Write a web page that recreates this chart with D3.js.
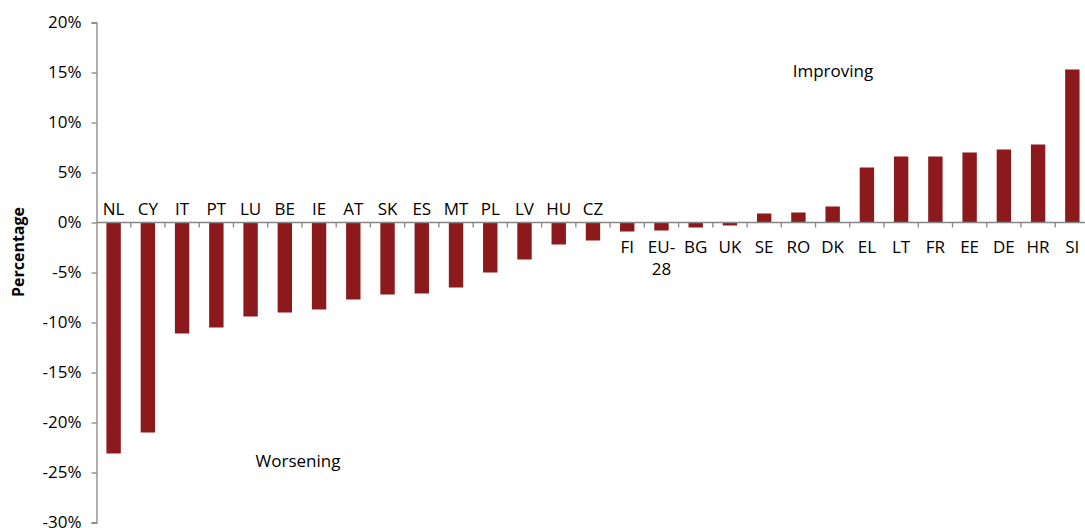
<!DOCTYPE html>
<html>
<head>
<meta charset="utf-8">
<script src="https://cdn.jsdelivr.net/npm/d3@7"></script>
<style>
  body { margin: 0; background: #fff; }
  svg text { font-family: "Open Sans", sans-serif; fill: #000; }
</style>
</head>
<body>
<div id="chart"></div>
<script>
// countries, sorted from worsening to improving
const countries = ["NL", "CY", "IT", "PT", "LU", "BE", "IE", "AT", "SK", "ES", "MT", "PL", "LV", "HU", "CZ",
  "FI", "EU-28", "BG", "UK", "SE", "RO", "DK", "EL", "LT", "FR", "EE", "DE", "HR", "SI"];
// change in percent
const values = [-23.1, -21.0, -11.1, -10.5, -9.4, -9.0, -8.7, -7.7, -7.2, -7.1, -6.5, -5.0, -3.7, -2.2, -1.8,
  -0.9, -0.8, -0.5, -0.3, 0.9, 1.0, 1.6, 5.5, 6.6, 6.6, 7.0, 7.3, 7.8, 15.3];
const yTicks = [20, 15, 10, 5, 0, -5, -10, -15, -20, -25, -30];

const width = 1085;
const height = 528;
const axisColor = "#868686";
const barColor = "#8c191c";

const svg = d3.select("#chart")
  .append("svg")
  .attr("width", width)
  .attr("height", height);

// scales
const pad = 0.58;
const x = d3.scaleBand()
  .domain(countries)
  .range([96.5, 96.5 + 29 * 34.24])
  .paddingInner(pad)
  .paddingOuter(pad / 2);

const y = d3.scaleLinear()
  .domain([-30, 20])
  .range([522.5, 22.5]);

// y axis
const yAxis = svg.append("g")
  .attr("transform", "translate(96.5,0)")
  .call(d3.axisLeft(y).tickValues(yTicks).tickSize(5).tickPadding(10)
    .tickFormat(function(d) { return d + "%"; }));
yAxis.select(".domain").attr("stroke", axisColor).attr("stroke-width", 1.3);
yAxis.selectAll(".tick line").attr("stroke", axisColor).attr("stroke-width", 1.3);
yAxis.selectAll(".tick text")
  .style("font-family", "'Open Sans', sans-serif")
  .style("font-size", "17px")
  .attr("fill", "#000");

// bars
svg.selectAll("rect.bar")
  .data(values)
  .enter()
  .append("rect")
  .attr("class", "bar")
  .attr("x", function(d, i) { return x(countries[i]); })
  .attr("width", x.bandwidth())
  .attr("y", function(d) { return Math.min(y(d), y(0)); })
  .attr("height", function(d) { return Math.abs(y(d) - y(0)); })
  .attr("fill", barColor);

// x axis line and boundary ticks
const step = x.step();
svg.append("line")
  .attr("x1", 96.5).attr("x2", width)
  .attr("y1", y(0)).attr("y2", y(0))
  .attr("stroke", axisColor).attr("stroke-width", 1.3);

svg.selectAll("line.xtick")
  .data(countries)
  .enter()
  .append("line")
  .attr("class", "xtick")
  .attr("x1", function(d) { return x(d) + x.bandwidth() / 2 + step / 2; })
  .attr("x2", function(d) { return x(d) + x.bandwidth() / 2 + step / 2; })
  .attr("y1", y(0)).attr("y2", y(0) + 5)
  .attr("stroke", axisColor).attr("stroke-width", 1.3);

// category labels: above the axis for negative bars, below for positive
const labels = svg.selectAll("text.cat")
  .data(countries)
  .enter()
  .append("text")
  .attr("class", "cat")
  .attr("text-anchor", "middle")
  .style("font-size", "17px")
  .attr("x", function(d) { return x(d) + x.bandwidth() / 2; })
  .attr("y", function(d, i) { return values[i] < 0 && i < 15 ? y(0) - 8 : y(0) + 30; });

labels.each(function(d) {
  const t = d3.select(this);
  if (d === "EU-28") {
    t.append("tspan").text("EU-");
    t.append("tspan").attr("x", t.attr("x")).attr("dy", 22).text("28");
  } else {
    t.text(d);
  }
});

// annotations
svg.append("text")
  .attr("x", 833).attr("y", 77)
  .attr("text-anchor", "middle")
  .style("font-size", "17px")
  .text("Improving");

svg.append("text")
  .attr("x", 298).attr("y", 467)
  .attr("text-anchor", "middle")
  .style("font-size", "17px")
  .text("Worsening");

// y axis title
svg.append("text")
  .attr("transform", "translate(24,252) rotate(-90)")
  .attr("text-anchor", "middle")
  .style("font-size", "16px")
  .style("font-weight", "bold")
  .text("Percentage");
</script>
</body>
</html>
